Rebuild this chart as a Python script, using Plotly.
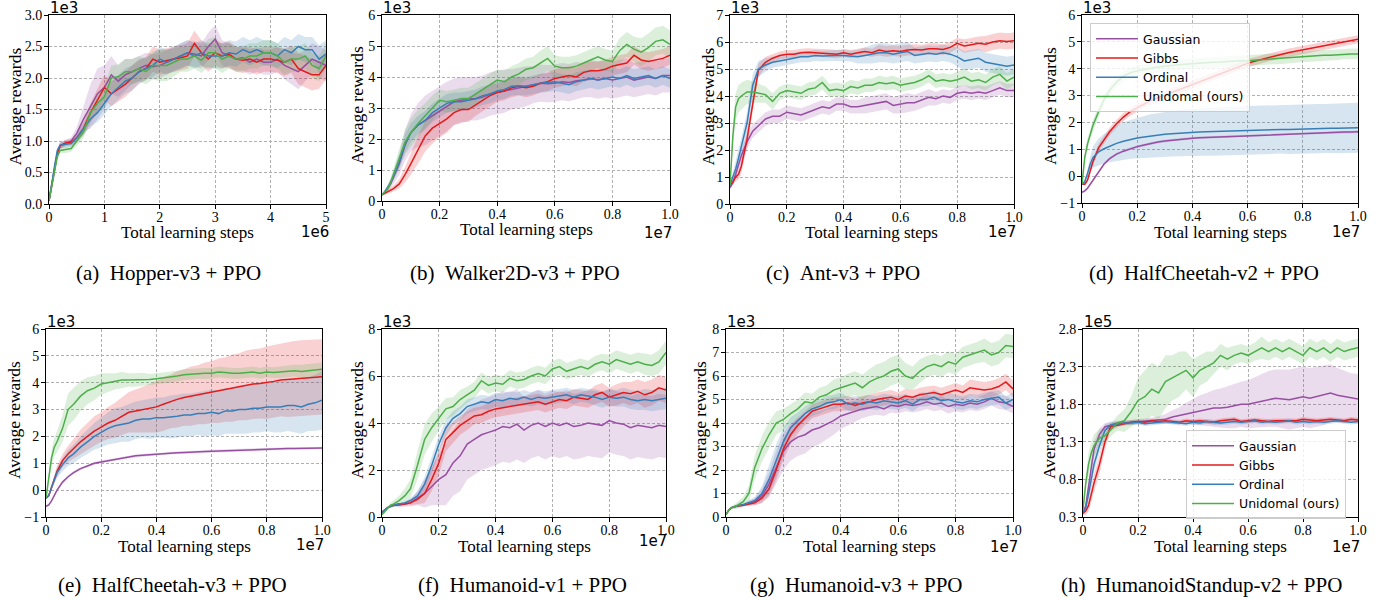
import plotly.graph_objects as go

# ---------------- data ----------------
SERIES_NAMES = ['Gaussian', 'Gibbs', 'Ordinal', 'Unidomal (ours)']
SERIES_COLORS = ['#984ea3', '#e41a1c', '#377eb8', '#4daf4a']
SERIES_FILLS = ['rgba(152,78,163,0.2)', 'rgba(228,26,28,0.2)', 'rgba(55,126,184,0.2)', 'rgba(77,175,74,0.2)']

# learning steps (x1e7) shared by panels b-h
STEPS_1E7 = [0.0, 0.01, 0.02, 0.03, 0.04, 0.06, 0.08, 0.1, 0.125, 0.15, 0.175,
             0.2, 0.225, 0.25, 0.275, 0.3, 0.325, 0.35, 0.375, 0.4, 0.425, 0.45,
             0.475, 0.5, 0.525, 0.55, 0.575, 0.6, 0.625, 0.65, 0.675, 0.7, 0.725,
             0.75, 0.775, 0.8, 0.825, 0.85, 0.875, 0.9, 0.925, 0.95, 0.975, 1.0]
# learning steps (x1e6) for Hopper
STEPS_1E6 = [0.0, 0.05, 0.1, 0.15, 0.2, 0.3, 0.4, 0.5, 0.625, 0.75, 0.875,
             1.0, 1.125, 1.25, 1.375, 1.5, 1.625, 1.75, 1.875, 2.0, 2.125, 2.25,
             2.375, 2.5, 2.625, 2.75, 2.875, 3.0, 3.125, 3.25, 3.375, 3.5, 3.625,
             3.75, 3.875, 4.0, 4.125, 4.25, 4.375, 4.5, 4.625, 4.75, 4.875, 5.0]

# (a) Hopper-v3 (x1e3)
HOP_GAU = [0.05, 0.3, 0.55, 0.8, 0.93, 0.97, 1.0, 1.12, 1.35, 1.55, 1.75,
           1.85, 2.05, 1.95, 2.05, 2.1, 2.15, 2.2, 2.18, 2.2, 2.25, 2.3,
           2.35, 2.4, 2.38, 2.35, 2.5, 2.62, 2.4, 2.35, 2.3, 2.32, 2.25,
           2.3, 2.25, 2.25, 2.3, 2.2, 2.15, 2.1, 2.2, 2.3, 2.25, 2.2]
HOP_GIB = [0.05, 0.3, 0.55, 0.8, 0.92, 0.97, 0.98, 1.05, 1.2, 1.45, 1.65,
           1.85, 1.75, 1.82, 1.9, 2.0, 2.1, 2.15, 2.3, 2.25, 2.28, 2.3,
           2.32, 2.35, 2.55, 2.4, 2.3, 2.4, 2.35, 2.38, 2.3, 2.28, 2.3,
           2.25, 2.3, 2.3, 2.28, 2.25, 2.3, 2.15, 2.1, 2.05, 2.05, 2.2]
HOP_ORD = [0.05, 0.35, 0.6, 0.85, 0.93, 0.95, 0.96, 1.05, 1.2, 1.35, 1.45,
           1.6, 1.75, 1.85, 1.95, 2.0, 2.1, 2.15, 2.2, 2.3, 2.25, 2.3,
           2.35, 2.4, 2.35, 2.4, 2.35, 2.35, 2.35, 2.4, 2.38, 2.45, 2.4,
           2.45, 2.4, 2.4, 2.35, 2.45, 2.4, 2.5, 2.45, 2.45, 2.3, 2.38]
HOP_UNI = [0.05, 0.28, 0.5, 0.75, 0.85, 0.86, 0.88, 1.0, 1.15, 1.45, 1.6,
           1.7, 2.0, 2.02, 2.1, 2.1, 2.15, 2.1, 2.2, 2.2, 2.2, 2.25,
           2.3, 2.3, 2.35, 2.28, 2.4, 2.4, 2.3, 2.35, 2.3, 2.3, 2.35,
           2.35, 2.4, 2.4, 2.35, 2.25, 2.3, 2.3, 2.35, 2.2, 2.15, 2.35]
HOP_GAU_SD = [0.02, 0.04, 0.05, 0.05, 0.05, 0.05, 0.06, 0.1, 0.2, 0.35, 0.4,
              0.35, 0.3, 0.25, 0.25, 0.2, 0.2, 0.2, 0.2, 0.2, 0.2, 0.18,
              0.2, 0.2, 0.2, 0.2, 0.22, 0.22, 0.2, 0.2, 0.18, 0.2, 0.2,
              0.2, 0.2, 0.2, 0.2, 0.22, 0.25, 0.28, 0.25, 0.25, 0.25, 0.25]
HOP_GIB_SD = [0.02, 0.04, 0.05, 0.05, 0.05, 0.05, 0.05, 0.08, 0.1, 0.15, 0.18,
              0.2, 0.2, 0.2, 0.2, 0.2, 0.18, 0.18, 0.2, 0.2, 0.2, 0.2,
              0.2, 0.2, 0.2, 0.2, 0.2, 0.2, 0.2, 0.2, 0.2, 0.2, 0.2,
              0.2, 0.2, 0.2, 0.2, 0.22, 0.22, 0.25, 0.25, 0.25, 0.22, 0.22]
HOP_ORD_SD = [0.02, 0.04, 0.05, 0.05, 0.05, 0.05, 0.05, 0.08, 0.1, 0.12, 0.15,
              0.18, 0.2, 0.2, 0.2, 0.2, 0.2, 0.18, 0.18, 0.2, 0.2, 0.2,
              0.2, 0.2, 0.2, 0.2, 0.2, 0.2, 0.2, 0.2, 0.2, 0.2, 0.2,
              0.2, 0.2, 0.2, 0.2, 0.2, 0.2, 0.2, 0.2, 0.2, 0.22, 0.22]
HOP_UNI_SD = [0.02, 0.04, 0.05, 0.05, 0.05, 0.05, 0.05, 0.08, 0.1, 0.12, 0.15,
              0.18, 0.2, 0.2, 0.2, 0.2, 0.2, 0.2, 0.22, 0.25, 0.25, 0.22,
              0.2, 0.2, 0.2, 0.2, 0.22, 0.25, 0.22, 0.2, 0.2, 0.2, 0.2,
              0.2, 0.2, 0.2, 0.2, 0.2, 0.2, 0.2, 0.2, 0.2, 0.2, 0.2]

# (b) Walker2D-v3 (x1e3)
WAL_GAU = [0.2, 0.3, 0.4, 0.55, 0.75, 1.2, 1.8, 2.2, 2.45, 2.6, 2.75,
           2.9, 3.05, 3.2, 3.25, 3.3, 3.3, 3.35, 3.45, 3.5, 3.55, 3.6,
           3.65, 3.7, 3.75, 3.8, 3.78, 3.8, 3.85, 3.82, 3.88, 3.9, 3.95,
           3.9, 3.95, 3.9, 3.95, 4.0, 3.9, 3.95, 4.0, 3.95, 4.05, 4.05]
WAL_GIB = [0.2, 0.25, 0.3, 0.35, 0.4, 0.55, 0.85, 1.2, 1.65, 2.1, 2.35,
           2.5, 2.65, 2.85, 2.95, 2.95, 3.1, 3.25, 3.4, 3.5, 3.55, 3.65,
           3.7, 3.65, 3.7, 3.8, 3.85, 3.95, 4.0, 4.05, 4.0, 4.15, 4.2,
           4.2, 4.25, 4.35, 4.4, 4.45, 4.7, 4.55, 4.5, 4.55, 4.6, 4.7]
WAL_ORD = [0.2, 0.3, 0.45, 0.6, 0.8, 1.25, 1.85, 2.2, 2.45, 2.6, 2.85,
           3.0, 3.15, 3.2, 3.2, 3.25, 3.3, 3.4, 3.45, 3.55, 3.6, 3.7,
           3.72, 3.7, 3.75, 3.8, 3.82, 3.85, 3.8, 3.75, 3.85, 3.9, 3.95,
           3.9, 3.95, 4.0, 3.95, 4.05, 3.95, 4.0, 4.05, 3.95, 4.05, 3.95]
WAL_UNI = [0.2, 0.3, 0.4, 0.6, 0.85, 1.35, 1.9, 2.2, 2.5, 2.75, 3.0,
           3.25, 3.2, 3.25, 3.3, 3.3, 3.45, 3.6, 3.75, 3.9, 3.85, 4.0,
           4.1, 4.25, 4.3, 4.45, 4.6, 4.35, 4.3, 4.3, 4.35, 4.45, 4.55,
           4.65, 4.55, 4.5, 4.85, 5.05, 4.9, 4.8, 4.95, 5.15, 5.2, 5.05]
WAL_GAU_SD = [0.02, 0.05, 0.1, 0.15, 0.2, 0.35, 0.5, 0.6, 0.7, 0.8, 0.8,
              0.8, 0.8, 0.75, 0.75, 0.7, 0.7, 0.7, 0.7, 0.7, 0.7, 0.65,
              0.65, 0.65, 0.6, 0.6, 0.6, 0.6, 0.6, 0.6, 0.6, 0.55, 0.6,
              0.6, 0.6, 0.6, 0.6, 0.6, 0.55, 0.55, 0.55, 0.55, 0.55, 0.55]
WAL_GIB_SD = [0.02, 0.05, 0.05, 0.08, 0.1, 0.15, 0.25, 0.35, 0.45, 0.5, 0.5,
              0.45, 0.45, 0.4, 0.4, 0.4, 0.35, 0.35, 0.35, 0.3, 0.3, 0.3,
              0.3, 0.3, 0.3, 0.3, 0.3, 0.3, 0.3, 0.3, 0.3, 0.3, 0.3,
              0.3, 0.3, 0.3, 0.3, 0.3, 0.3, 0.3, 0.3, 0.3, 0.3, 0.3]
WAL_ORD_SD = [0.02, 0.05, 0.08, 0.1, 0.15, 0.2, 0.3, 0.3, 0.3, 0.3, 0.3,
              0.3, 0.3, 0.3, 0.3, 0.3, 0.3, 0.3, 0.3, 0.3, 0.3, 0.3,
              0.3, 0.3, 0.3, 0.3, 0.3, 0.3, 0.3, 0.3, 0.3, 0.3, 0.3,
              0.3, 0.3, 0.3, 0.3, 0.3, 0.3, 0.3, 0.3, 0.3, 0.3, 0.3]
WAL_UNI_SD = [0.02, 0.05, 0.1, 0.15, 0.2, 0.3, 0.4, 0.45, 0.45, 0.4, 0.4,
              0.35, 0.35, 0.35, 0.35, 0.35, 0.35, 0.35, 0.35, 0.35, 0.35, 0.35,
              0.35, 0.35, 0.35, 0.4, 0.4, 0.35, 0.35, 0.35, 0.35, 0.35, 0.35,
              0.35, 0.35, 0.35, 0.4, 0.4, 0.4, 0.45, 0.45, 0.45, 0.45, 0.45]

# (c) Ant-v3 (x1e3)
ANT_GAU = [0.6, 0.8, 1.1, 1.5, 1.8, 2.3, 2.7, 2.9, 3.15, 3.25, 3.25,
           3.4, 3.35, 3.3, 3.4, 3.5, 3.6, 3.55, 3.7, 3.7, 3.6, 3.6,
           3.65, 3.7, 3.75, 3.8, 3.65, 3.7, 3.75, 3.75, 3.85, 3.95, 3.9,
           4.0, 3.95, 4.1, 4.15, 4.1, 4.15, 4.1, 4.2, 4.3, 4.2, 4.2]
ANT_GIB = [0.7, 0.8, 1.0, 1.1, 1.4, 2.4, 3.7, 4.95, 5.25, 5.4, 5.5,
           5.55, 5.55, 5.6, 5.62, 5.6, 5.6, 5.58, 5.55, 5.6, 5.55, 5.6,
           5.65, 5.6, 5.7, 5.65, 5.68, 5.65, 5.7, 5.72, 5.7, 5.75, 5.75,
           5.72, 5.8, 5.95, 5.85, 5.9, 5.95, 5.92, 6.0, 6.05, 6.02, 6.05]
ANT_ORD = [0.7, 1.0, 1.3, 1.7, 2.1, 3.0, 4.4, 5.0, 5.15, 5.25, 5.3,
           5.35, 5.4, 5.45, 5.45, 5.5, 5.48, 5.5, 5.5, 5.5, 5.48, 5.45,
           5.5, 5.55, 5.6, 5.6, 5.55, 5.6, 5.65, 5.5, 5.55, 5.58, 5.55,
           5.6, 5.55, 5.45, 5.3, 5.35, 5.4, 5.25, 5.2, 5.15, 5.1, 5.15]
ANT_UNI = [0.7, 2.5, 3.6, 3.9, 4.0, 4.15, 4.15, 4.1, 4.05, 3.8, 4.1,
           4.2, 4.15, 4.1, 4.25, 4.3, 4.5, 4.2, 4.25, 4.2, 4.35, 4.3,
           4.4, 4.4, 4.5, 4.45, 4.5, 4.4, 4.45, 4.5, 4.6, 4.75, 4.55,
           4.6, 4.55, 4.6, 4.7, 4.55, 4.6, 4.5, 4.7, 4.8, 4.55, 4.7]
ANT_GAU_SD = [0.05, 0.1, 0.15, 0.2, 0.25, 0.25, 0.25, 0.25, 0.25, 0.25, 0.25,
              0.25, 0.25, 0.25, 0.25, 0.25, 0.25, 0.25, 0.25, 0.25, 0.25, 0.25,
              0.3, 0.3, 0.3, 0.3, 0.3, 0.35, 0.35, 0.3, 0.3, 0.3, 0.25,
              0.25, 0.25, 0.25, 0.25, 0.25, 0.25, 0.25, 0.25, 0.25, 0.25, 0.25]
ANT_GIB_SD = [0.05, 0.1, 0.15, 0.2, 0.25, 0.3, 0.3, 0.25, 0.2, 0.15, 0.15,
              0.15, 0.15, 0.15, 0.15, 0.15, 0.15, 0.15, 0.15, 0.15, 0.15, 0.15,
              0.15, 0.15, 0.2, 0.2, 0.2, 0.2, 0.2, 0.2, 0.2, 0.2, 0.2,
              0.2, 0.2, 0.2, 0.25, 0.25, 0.25, 0.3, 0.3, 0.3, 0.3, 0.3]
ANT_ORD_SD = [0.05, 0.15, 0.25, 0.3, 0.35, 0.4, 0.4, 0.3, 0.25, 0.2, 0.2,
              0.2, 0.2, 0.2, 0.2, 0.2, 0.2, 0.2, 0.2, 0.2, 0.2, 0.25,
              0.3, 0.35, 0.35, 0.35, 0.35, 0.35, 0.35, 0.3, 0.3, 0.3, 0.3,
              0.3, 0.3, 0.35, 0.35, 0.35, 0.35, 0.35, 0.35, 0.35, 0.35, 0.35]
ANT_UNI_SD = [0.05, 0.4, 0.5, 0.5, 0.5, 0.45, 0.4, 0.35, 0.3, 0.3, 0.25,
              0.25, 0.25, 0.25, 0.25, 0.25, 0.25, 0.25, 0.25, 0.25, 0.25, 0.25,
              0.25, 0.25, 0.25, 0.25, 0.25, 0.25, 0.25, 0.25, 0.25, 0.25, 0.25,
              0.25, 0.25, 0.3, 0.3, 0.3, 0.3, 0.3, 0.3, 0.3, 0.3, 0.3]

# (d) HalfCheetah-v2 (x1e3)
HC2_GAU = [-0.6, -0.55, -0.45, -0.3, -0.15, 0.15, 0.45, 0.65, 0.82, 0.93, 1.02,
           1.1, 1.16, 1.22, 1.27, 1.31, 1.34, 1.37, 1.4, 1.41, 1.43, 1.44,
           1.45, 1.46, 1.48, 1.5, 1.51, 1.52, 1.53, 1.54, 1.55, 1.56, 1.57,
           1.58, 1.59, 1.6, 1.6, 1.61, 1.62, 1.62, 1.63, 1.64, 1.64, 1.65]
HC2_GIB = [-0.3, -0.3, -0.15, 0.2, 0.55, 1.05, 1.35, 1.65, 1.95, 2.2, 2.4,
           2.55, 2.7, 2.82, 2.92, 3.02, 3.12, 3.22, 3.32, 3.42, 3.52, 3.62,
           3.72, 3.82, 3.92, 4.02, 4.1, 4.2, 4.28, 4.35, 4.42, 4.48, 4.54,
           4.6, 4.65, 4.7, 4.75, 4.8, 4.85, 4.9, 4.95, 5.0, 5.05, 5.1]
HC2_ORD = [-0.3, -0.2, 0.1, 0.45, 0.7, 0.9, 1.02, 1.12, 1.22, 1.3, 1.37,
           1.42, 1.46, 1.5, 1.53, 1.56, 1.58, 1.6, 1.62, 1.63, 1.64, 1.65,
           1.66, 1.67, 1.68, 1.69, 1.7, 1.7, 1.71, 1.72, 1.72, 1.73, 1.74,
           1.74, 1.75, 1.76, 1.76, 1.77, 1.77, 1.78, 1.78, 1.79, 1.79, 1.8]
HC2_UNI = [-0.3, 0.7, 1.2, 1.6, 1.9, 2.4, 2.85, 3.2, 3.5, 3.72, 3.85,
           3.92, 3.98, 4.02, 4.06, 4.1, 4.12, 4.15, 4.17, 4.2, 4.2, 4.22,
           4.24, 4.25, 4.27, 4.28, 4.3, 4.3, 4.32, 4.34, 4.35, 4.37, 4.38,
           4.4, 4.42, 4.45, 4.46, 4.48, 4.5, 4.5, 4.52, 4.55, 4.55, 4.55]
HC2_GAU_SD = [0.05, 0.05, 0.05, 0.05, 0.05, 0.05, 0.05, 0.05, 0.05, 0.05, 0.05,
              0.05, 0.05, 0.05, 0.05, 0.05, 0.05, 0.05, 0.05, 0.05, 0.05, 0.05,
              0.05, 0.05, 0.05, 0.05, 0.05, 0.05, 0.05, 0.05, 0.05, 0.05, 0.05,
              0.05, 0.05, 0.05, 0.05, 0.05, 0.05, 0.05, 0.05, 0.05, 0.05, 0.05]
HC2_GIB_SD = [0.05, 0.05, 0.08, 0.1, 0.12, 0.15, 0.15, 0.15, 0.15, 0.15, 0.15,
              0.15, 0.15, 0.15, 0.15, 0.15, 0.15, 0.15, 0.15, 0.15, 0.15, 0.15,
              0.15, 0.15, 0.15, 0.15, 0.15, 0.15, 0.15, 0.15, 0.15, 0.15, 0.15,
              0.15, 0.15, 0.15, 0.15, 0.15, 0.15, 0.15, 0.15, 0.15, 0.15, 0.15]
HC2_ORD_SD = [0.02, 0.05, 0.15, 0.3, 0.4, 0.5, 0.55, 0.6, 0.65, 0.7, 0.72,
              0.75, 0.78, 0.8, 0.82, 0.84, 0.85, 0.86, 0.87, 0.88, 0.88, 0.89,
              0.9, 0.9, 0.9, 0.9, 0.9, 0.9, 0.9, 0.9, 0.9, 0.9, 0.9,
              0.92, 0.92, 0.92, 0.92, 0.92, 0.92, 0.92, 0.93, 0.93, 0.93, 0.93]
HC2_UNI_SD = [0.05, 0.15, 0.2, 0.2, 0.2, 0.2, 0.2, 0.2, 0.2, 0.2, 0.2,
              0.2, 0.2, 0.2, 0.2, 0.2, 0.2, 0.2, 0.2, 0.2, 0.2, 0.2,
              0.2, 0.2, 0.2, 0.2, 0.2, 0.2, 0.2, 0.2, 0.2, 0.2, 0.2,
              0.2, 0.2, 0.2, 0.2, 0.2, 0.2, 0.2, 0.2, 0.2, 0.2, 0.2]

# (e) HalfCheetah-v3 (x1e3)
HC3_GAU = [-0.6, -0.55, -0.4, -0.2, 0.0, 0.3, 0.5, 0.65, 0.8, 0.9, 1.0,
           1.05, 1.1, 1.15, 1.2, 1.25, 1.28, 1.3, 1.32, 1.35, 1.37, 1.38,
           1.39, 1.4, 1.42, 1.43, 1.44, 1.45, 1.46, 1.47, 1.48, 1.5, 1.5,
           1.51, 1.52, 1.52, 1.53, 1.54, 1.55, 1.55, 1.56, 1.56, 1.57, 1.57]
HC3_GIB = [-0.3, -0.2, 0.1, 0.4, 0.7, 1.1, 1.35, 1.55, 1.8, 2.0, 2.2,
           2.35, 2.5, 2.6, 2.75, 2.9, 2.95, 3.0, 3.05, 3.1, 3.2, 3.3,
           3.38, 3.45, 3.5, 3.55, 3.6, 3.65, 3.7, 3.75, 3.8, 3.85, 3.9,
           3.95, 3.97, 4.0, 4.05, 4.1, 4.12, 4.15, 4.18, 4.2, 4.2, 4.22]
HC3_ORD = [-0.3, -0.2, 0.1, 0.4, 0.65, 0.95, 1.2, 1.35, 1.6, 1.8, 2.0,
           2.15, 2.3, 2.4, 2.45, 2.5, 2.6, 2.65, 2.65, 2.7, 2.7, 2.72,
           2.75, 2.8, 2.8, 2.85, 2.85, 2.9, 2.85, 2.95, 2.95, 3.0, 3.0,
           3.05, 3.05, 3.1, 3.1, 3.1, 3.15, 3.15, 3.1, 3.2, 3.25, 3.35]
HC3_UNI = [-0.3, 0.5, 1.2, 1.6, 1.8, 2.3, 3.0, 3.2, 3.5, 3.7, 3.8,
           3.95, 4.0, 4.05, 4.1, 4.1, 4.1, 4.12, 4.12, 4.15, 4.18, 4.2,
           4.25, 4.3, 4.32, 4.35, 4.35, 4.35, 4.4, 4.38, 4.35, 4.35, 4.38,
           4.4, 4.35, 4.4, 4.38, 4.4, 4.42, 4.45, 4.42, 4.45, 4.48, 4.5]
HC3_GAU_SD = [0.05, 0.05, 0.05, 0.05, 0.05, 0.05, 0.05, 0.05, 0.05, 0.05, 0.05,
              0.05, 0.05, 0.05, 0.05, 0.05, 0.05, 0.05, 0.05, 0.05, 0.05, 0.05,
              0.05, 0.05, 0.05, 0.05, 0.05, 0.05, 0.05, 0.05, 0.05, 0.05, 0.05,
              0.05, 0.05, 0.05, 0.05, 0.05, 0.05, 0.05, 0.05, 0.05, 0.05, 0.05]
HC3_GIB_SD = [0.02, 0.05, 0.1, 0.15, 0.2, 0.25, 0.3, 0.35, 0.45, 0.5, 0.55,
              0.55, 0.6, 0.65, 0.7, 0.75, 0.8, 0.85, 0.9, 0.95, 1.0, 1.0,
              1.05, 1.05, 1.1, 1.1, 1.15, 1.15, 1.2, 1.2, 1.25, 1.25, 1.3,
              1.3, 1.3, 1.35, 1.35, 1.35, 1.4, 1.4, 1.4, 1.4, 1.4, 1.4]
HC3_ORD_SD = [0.02, 0.05, 0.1, 0.15, 0.2, 0.25, 0.3, 0.35, 0.4, 0.45, 0.5,
              0.55, 0.6, 0.65, 0.65, 0.7, 0.7, 0.7, 0.75, 0.75, 0.75, 0.8,
              0.8, 0.8, 0.8, 0.8, 0.85, 0.85, 0.85, 0.85, 0.85, 0.9, 0.9,
              0.9, 0.9, 0.9, 0.95, 0.95, 0.95, 1.0, 1.0, 1.0, 1.05, 1.1]
HC3_UNI_SD = [0.05, 0.2, 0.3, 0.35, 0.4, 0.5, 0.6, 0.6, 0.55, 0.5, 0.45,
              0.4, 0.35, 0.3, 0.3, 0.25, 0.25, 0.25, 0.2, 0.2, 0.2, 0.2,
              0.2, 0.2, 0.2, 0.2, 0.2, 0.2, 0.2, 0.2, 0.2, 0.2, 0.2,
              0.2, 0.2, 0.2, 0.2, 0.22, 0.22, 0.22, 0.25, 0.25, 0.25, 0.25]

# (f) Humanoid-v1 (x1e3)
HV1_GAU = [0.2, 0.3, 0.4, 0.45, 0.5, 0.5, 0.55, 0.6, 0.8, 1.0, 1.3,
           1.6, 1.8, 2.3, 2.6, 3.1, 3.3, 3.5, 3.6, 3.7, 3.85, 3.8,
           3.95, 3.7, 3.9, 4.0, 3.85, 4.0, 3.9, 4.0, 3.85, 3.9, 4.0,
           3.95, 3.9, 4.1, 4.0, 3.95, 3.8, 3.9, 3.85, 3.8, 3.9, 3.85]
HV1_GIB = [0.2, 0.3, 0.4, 0.45, 0.5, 0.55, 0.55, 0.6, 0.75, 1.0, 1.6,
           2.3, 3.3, 3.6, 3.9, 4.1, 4.3, 4.35, 4.5, 4.6, 4.65, 4.7,
           4.75, 4.8, 4.85, 4.9, 4.8, 4.9, 5.0, 4.95, 5.1, 5.05, 5.0,
           5.2, 5.3, 5.1, 5.2, 5.3, 5.25, 5.35, 5.2, 5.3, 5.5, 5.4]
HV1_ORD = [0.2, 0.3, 0.4, 0.45, 0.5, 0.55, 0.6, 0.7, 0.9, 1.4, 2.2,
           3.1, 3.8, 4.2, 4.4, 4.7, 4.8, 4.9, 4.85, 5.0, 4.95, 5.05,
           5.0, 5.1, 5.0, 5.1, 5.05, 5.1, 5.15, 5.2, 5.1, 5.2, 5.15,
           5.1, 5.0, 5.1, 5.05, 5.1, 5.0, 4.95, 5.0, 4.95, 5.0, 5.05]
HV1_UNI = [0.1, 0.25, 0.4, 0.5, 0.55, 0.7, 0.9, 1.2, 2.2, 3.3, 3.8,
           4.2, 4.6, 4.7, 5.0, 5.2, 5.4, 5.8, 5.6, 5.7, 5.65, 5.9,
           5.8, 5.85, 6.0, 6.1, 6.0, 6.3, 6.4, 6.2, 6.3, 6.4, 6.3,
           6.5, 6.6, 6.5, 6.7, 6.6, 6.5, 6.6, 6.5, 6.45, 6.6, 7.0]
HV1_GAU_SD = [0.02, 0.05, 0.05, 0.05, 0.05, 0.1, 0.1, 0.15, 0.3, 0.6, 0.8,
              1.1, 1.3, 1.4, 1.5, 1.5, 1.5, 1.5, 1.5, 1.5, 1.5, 1.5,
              1.5, 1.4, 1.4, 1.4, 1.4, 1.4, 1.4, 1.4, 1.4, 1.4, 1.4,
              1.4, 1.4, 1.35, 1.35, 1.35, 1.35, 1.35, 1.35, 1.35, 1.35, 1.35]
HV1_GIB_SD = [0.02, 0.05, 0.05, 0.05, 0.05, 0.05, 0.05, 0.1, 0.2, 0.4, 0.5,
              0.5, 0.5, 0.45, 0.4, 0.4, 0.35, 0.35, 0.35, 0.35, 0.35, 0.35,
              0.35, 0.35, 0.35, 0.35, 0.35, 0.35, 0.35, 0.35, 0.35, 0.35, 0.35,
              0.4, 0.4, 0.4, 0.45, 0.45, 0.5, 0.5, 0.55, 0.55, 0.55, 0.55]
HV1_ORD_SD = [0.02, 0.05, 0.05, 0.05, 0.05, 0.05, 0.05, 0.1, 0.2, 0.3, 0.35,
              0.35, 0.35, 0.3, 0.3, 0.3, 0.3, 0.3, 0.3, 0.3, 0.3, 0.3,
              0.3, 0.3, 0.3, 0.3, 0.3, 0.3, 0.3, 0.3, 0.3, 0.3, 0.3,
              0.35, 0.35, 0.35, 0.35, 0.4, 0.4, 0.4, 0.45, 0.45, 0.45, 0.45]
HV1_UNI_SD = [0.02, 0.05, 0.05, 0.1, 0.15, 0.2, 0.3, 0.4, 0.6, 0.65, 0.6,
              0.5, 0.45, 0.4, 0.4, 0.35, 0.35, 0.35, 0.35, 0.35, 0.35, 0.35,
              0.35, 0.35, 0.35, 0.35, 0.35, 0.35, 0.35, 0.35, 0.35, 0.35, 0.35,
              0.35, 0.35, 0.4, 0.4, 0.4, 0.4, 0.4, 0.45, 0.45, 0.5, 0.5]

# (g) Humanoid-v3 (x1e3)
HV3_GAU = [0.1, 0.3, 0.4, 0.45, 0.48, 0.52, 0.58, 0.65, 0.9, 1.4, 2.1,
           2.8, 3.2, 3.4, 3.5, 3.7, 3.8, 3.95, 4.1, 4.3, 4.4, 4.5,
           4.6, 4.65, 4.7, 4.6, 4.75, 4.7, 4.8, 4.75, 4.8, 4.9, 4.8,
           4.85, 4.7, 4.8, 4.75, 4.85, 4.8, 4.9, 5.05, 4.9, 4.85, 4.7]
HV3_GIB = [0.1, 0.3, 0.4, 0.45, 0.47, 0.5, 0.55, 0.6, 0.8, 1.2, 2.0,
           2.9, 3.5, 3.9, 4.2, 4.5, 4.6, 4.7, 4.8, 4.8, 4.85, 4.75,
           4.85, 4.9, 5.0, 5.05, 5.1, 5.0, 5.15, 5.1, 5.2, 5.25, 5.3,
           5.2, 5.3, 5.4, 5.3, 5.5, 5.45, 5.4, 5.45, 5.55, 5.75, 5.45]
HV3_ORD = [0.1, 0.3, 0.4, 0.45, 0.48, 0.52, 0.6, 0.7, 1.0, 1.6, 2.4,
           3.2, 3.8, 4.1, 4.4, 4.6, 4.7, 4.85, 4.9, 5.0, 4.8, 4.85,
           4.8, 4.9, 4.85, 4.95, 4.9, 4.85, 4.95, 4.8, 5.0, 5.0, 5.1,
           4.95, 5.0, 4.9, 4.85, 4.95, 4.9, 5.0, 5.05, 5.1, 4.85, 5.0]
HV3_UNI = [0.1, 0.3, 0.4, 0.45, 0.5, 0.65, 1.0, 2.1, 2.9, 3.5, 4.0,
           4.15, 4.4, 4.6, 4.9, 4.85, 5.1, 5.2, 5.4, 5.5, 5.6, 5.7,
           5.5, 5.75, 5.9, 6.0, 6.2, 6.3, 6.0, 5.9, 6.2, 6.4, 6.5,
           6.4, 6.6, 6.5, 6.8, 6.9, 7.0, 7.1, 6.9, 7.0, 7.3, 7.25]
HV3_GAU_SD = [0.02, 0.05, 0.05, 0.05, 0.05, 0.05, 0.1, 0.15, 0.3, 0.5, 0.7,
              0.8, 0.8, 0.8, 0.8, 0.75, 0.7, 0.65, 0.6, 0.55, 0.5, 0.45,
              0.4, 0.35, 0.35, 0.3, 0.3, 0.3, 0.3, 0.3, 0.3, 0.3, 0.3,
              0.3, 0.3, 0.3, 0.3, 0.3, 0.3, 0.3, 0.3, 0.3, 0.3, 0.3]
HV3_GIB_SD = [0.02, 0.05, 0.05, 0.05, 0.05, 0.05, 0.05, 0.1, 0.2, 0.35, 0.45,
              0.45, 0.4, 0.35, 0.3, 0.3, 0.3, 0.3, 0.3, 0.3, 0.3, 0.3,
              0.3, 0.3, 0.3, 0.3, 0.3, 0.3, 0.3, 0.3, 0.3, 0.3, 0.3,
              0.3, 0.3, 0.3, 0.3, 0.35, 0.35, 0.35, 0.35, 0.35, 0.35, 0.35]
HV3_ORD_SD = [0.02, 0.05, 0.05, 0.05, 0.05, 0.05, 0.1, 0.15, 0.3, 0.6, 0.7,
              0.6, 0.45, 0.35, 0.3, 0.3, 0.3, 0.3, 0.3, 0.3, 0.3, 0.3,
              0.3, 0.3, 0.3, 0.3, 0.3, 0.3, 0.3, 0.3, 0.3, 0.3, 0.3,
              0.3, 0.3, 0.3, 0.3, 0.3, 0.3, 0.3, 0.3, 0.3, 0.3, 0.3]
HV3_UNI_SD = [0.02, 0.05, 0.05, 0.1, 0.15, 0.2, 0.35, 0.5, 0.55, 0.55, 0.5,
              0.45, 0.4, 0.4, 0.4, 0.4, 0.4, 0.4, 0.45, 0.45, 0.5, 0.5,
              0.55, 0.55, 0.6, 0.6, 0.6, 0.6, 0.55, 0.5, 0.5, 0.45, 0.45,
              0.45, 0.45, 0.45, 0.45, 0.45, 0.45, 0.5, 0.5, 0.5, 0.5, 0.5]

# (h) HumanoidStandup-v2 (x1e5)
HS_GAU = [0.35, 0.45, 0.7, 0.95, 1.2, 1.4, 1.5, 1.52, 1.55, 1.55, 1.56,
          1.57, 1.57, 1.58, 1.59, 1.6, 1.63, 1.65, 1.68, 1.7, 1.72, 1.73,
          1.75, 1.75, 1.76, 1.78, 1.8, 1.8, 1.82, 1.85, 1.87, 1.88, 1.87,
          1.86, 1.88, 1.9, 1.88, 1.9, 1.92, 1.95, 1.92, 1.9, 1.88, 1.87]
HS_GIB = [0.35, 0.38, 0.45, 0.6, 0.75, 1.0, 1.3, 1.5, 1.52, 1.55, 1.56,
          1.57, 1.56, 1.58, 1.57, 1.58, 1.57, 1.56, 1.58, 1.57, 1.58, 1.57,
          1.56, 1.58, 1.59, 1.6, 1.57, 1.58, 1.59, 1.58, 1.57, 1.58, 1.58,
          1.59, 1.58, 1.6, 1.59, 1.58, 1.59, 1.6, 1.59, 1.58, 1.6, 1.59]
HS_ORD = [0.35, 0.42, 0.6, 0.8, 1.0, 1.25, 1.45, 1.52, 1.54, 1.55, 1.55,
          1.56, 1.54, 1.55, 1.56, 1.57, 1.56, 1.55, 1.54, 1.56, 1.55, 1.57,
          1.56, 1.55, 1.56, 1.57, 1.56, 1.57, 1.58, 1.56, 1.57, 1.56, 1.57,
          1.58, 1.56, 1.57, 1.56, 1.57, 1.56, 1.57, 1.58, 1.57, 1.56, 1.57]
HS_UNI = [0.4, 0.75, 1.0, 1.15, 1.25, 1.35, 1.38, 1.45, 1.55, 1.58, 1.7,
          1.85, 1.9, 2.0, 1.95, 2.1, 2.15, 2.2, 2.25, 2.15, 2.25, 2.3,
          2.35, 2.45, 2.4, 2.45, 2.48, 2.45, 2.5, 2.55, 2.5, 2.55, 2.5,
          2.55, 2.5, 2.45, 2.55, 2.5, 2.55, 2.48, 2.55, 2.5, 2.53, 2.55]
HS_GAU_SD = [0.03, 0.05, 0.08, 0.1, 0.1, 0.08, 0.05, 0.04, 0.03, 0.03, 0.03,
             0.03, 0.03, 0.04, 0.05, 0.07, 0.09, 0.11, 0.14, 0.17, 0.2, 0.22,
             0.24, 0.26, 0.28, 0.3, 0.3, 0.32, 0.34, 0.36, 0.37, 0.38, 0.39,
             0.4, 0.4, 0.4, 0.4, 0.4, 0.4, 0.38, 0.36, 0.34, 0.33, 0.33]
HS_GIB_SD = [0.02, 0.05, 0.08, 0.1, 0.12, 0.12, 0.1, 0.05, 0.03, 0.03, 0.03,
             0.03, 0.03, 0.03, 0.03, 0.03, 0.03, 0.03, 0.03, 0.03, 0.03, 0.03,
             0.03, 0.03, 0.03, 0.03, 0.03, 0.03, 0.03, 0.03, 0.03, 0.03, 0.03,
             0.03, 0.03, 0.03, 0.03, 0.03, 0.03, 0.03, 0.03, 0.03, 0.03, 0.03]
HS_ORD_SD = [0.02, 0.05, 0.08, 0.1, 0.1, 0.1, 0.08, 0.05, 0.03, 0.03, 0.03,
             0.03, 0.03, 0.03, 0.03, 0.03, 0.03, 0.03, 0.03, 0.03, 0.03, 0.03,
             0.03, 0.03, 0.03, 0.03, 0.03, 0.03, 0.03, 0.03, 0.03, 0.03, 0.03,
             0.03, 0.03, 0.03, 0.03, 0.03, 0.03, 0.03, 0.03, 0.03, 0.03, 0.03]
HS_UNI_SD = [0.05, 0.1, 0.15, 0.15, 0.15, 0.12, 0.1, 0.08, 0.1, 0.15, 0.2,
             0.3, 0.35, 0.35, 0.35, 0.35, 0.3, 0.3, 0.25, 0.25, 0.2, 0.2,
             0.15, 0.15, 0.15, 0.12, 0.12, 0.12, 0.12, 0.15, 0.12, 0.12, 0.12,
             0.12, 0.12, 0.12, 0.12, 0.12, 0.12, 0.12, 0.12, 0.12, 0.12, 0.12]

# tick values / labels
HOP_XTICKS = [0, 1, 2, 3, 4, 5]
HOP_XLABELS = ['0', '1', '2', '3', '4', '5']
TEN_XTICKS = [0, 0.2, 0.4, 0.6, 0.8, 1.0]
TEN_XLABELS = ['0', '0.2', '0.4', '0.6', '0.8', '1.0']
HOP_YTICKS = [0, 0.5, 1.0, 1.5, 2.0, 2.5, 3.0]
HOP_YLABELS = ['0.0', '0.5', '1.0', '1.5', '2.0', '2.5', '3.0']
WAL_YTICKS = [0, 1, 2, 3, 4, 5, 6]
WAL_YLABELS = ['0', '1', '2', '3', '4', '5', '6']
ANT_YTICKS = [0, 1, 2, 3, 4, 5, 6, 7]
ANT_YLABELS = ['0', '1', '2', '3', '4', '5', '6', '7']
HC_YTICKS = [-1, 0, 1, 2, 3, 4, 5, 6]
HC_YLABELS = ['\u22121', '0', '1', '2', '3', '4', '5', '6']
HV1_YTICKS = [0, 2, 4, 6, 8]
HV1_YLABELS = ['0', '2', '4', '6', '8']
HV3_YTICKS = [0, 1, 2, 3, 4, 5, 6, 7, 8]
HV3_YLABELS = ['0', '1', '2', '3', '4', '5', '6', '7', '8']
HS_YTICKS = [0.3, 0.8, 1.3, 1.8, 2.3, 2.8]
HS_YLABELS = ['0.3', '0.8', '1.3', '1.8', '2.3', '2.8']

CAPTIONS = ['(a)\u00a0\u00a0Hopper-v3 + PPO', '(b)\u00a0\u00a0Walker2D-v3 + PPO', '(c)\u00a0\u00a0Ant-v3 + PPO',
            '(d)\u00a0\u00a0HalfCheetah-v2 + PPO', '(e)\u00a0\u00a0HalfCheetah-v3 + PPO',
            '(f)\u00a0\u00a0Humanoid-v1 + PPO', '(g)\u00a0\u00a0Humanoid-v3 + PPO',
            '(h)\u00a0\u00a0HumanoidStandup-v2 + PPO']

# ---------------- layout helpers ----------------
W, H = 1392, 600
SERIF = 'Liberation Serif'
SANS = 'DejaVu Sans'


def fx(p):
    return p / W


def fy(p):
    return 1 - p / H


panels = [
    dict(x=STEPS_1E6, m=[HOP_GAU, HOP_GIB, HOP_ORD, HOP_UNI], s=[HOP_GAU_SD, HOP_GIB_SD, HOP_ORD_SD, HOP_UNI_SD],
         xr=[0, 5], yr=[0, 3], xt=HOP_XTICKS, xl=HOP_XLABELS, yt=HOP_YTICKS, yl=HOP_YLABELS,
         xexp='1e6', yexp='1e3', box=(49, 326, 15, 204), ytx=14, xer=331, xey=232, cap=(168, 273), leg=None),
    dict(x=STEPS_1E7, m=[WAL_GAU, WAL_GIB, WAL_ORD, WAL_UNI], s=[WAL_GAU_SD, WAL_GIB_SD, WAL_ORD_SD, WAL_UNI_SD],
         xr=[0, 1], yr=[0, 6], xt=TEN_XTICKS, xl=TEN_XLABELS, yt=WAL_YTICKS, yl=WAL_YLABELS,
         xexp='1e7', yexp='1e3', box=(382, 670, 15, 201), ytx=357, xer=674, xey=233, cap=(515, 273), leg=None),
    dict(x=STEPS_1E7, m=[ANT_GAU, ANT_GIB, ANT_ORD, ANT_UNI], s=[ANT_GAU_SD, ANT_GIB_SD, ANT_ORD_SD, ANT_UNI_SD],
         xr=[0, 1], yr=[0, 7], xt=TEN_XTICKS, xl=TEN_XLABELS, yt=ANT_YTICKS, yl=ANT_YLABELS,
         xexp='1e7', yexp='1e3', box=(730, 1014, 15, 204), ytx=707, xer=1018, xey=232, cap=(843, 273), leg=None),
    dict(x=STEPS_1E7, m=[HC2_GAU, HC2_GIB, HC2_ORD, HC2_UNI], s=[HC2_GAU_SD, HC2_GIB_SD, HC2_ORD_SD, HC2_UNI_SD],
         xr=[0, 1], yr=[-1, 6], xt=TEN_XTICKS, xl=TEN_XLABELS, yt=HC_YTICKS, yl=HC_YLABELS,
         xexp='1e7', yexp='1e3', box=(1082, 1358, 15, 203), ytx=1050, xer=1362, xey=232, cap=(1204, 273), leg='legend'),
    dict(x=STEPS_1E7, m=[HC3_GAU, HC3_GIB, HC3_ORD, HC3_UNI], s=[HC3_GAU_SD, HC3_GIB_SD, HC3_ORD_SD, HC3_UNI_SD],
         xr=[0, 1], yr=[-1, 6], xt=TEN_XTICKS, xl=TEN_XLABELS, yt=HC_YTICKS, yl=HC_YLABELS,
         xexp='1e7', yexp='1e3', box=(46, 322, 329, 517), ytx=14, xer=326, xey=545, cap=(172, 585), leg=None),
    dict(x=STEPS_1E7, m=[HV1_GAU, HV1_GIB, HV1_ORD, HV1_UNI], s=[HV1_GAU_SD, HV1_GIB_SD, HV1_ORD_SD, HV1_UNI_SD],
         xr=[0, 1], yr=[0, 8], xt=TEN_XTICKS, xl=TEN_XLABELS, yt=HV1_YTICKS, yl=HV1_YLABELS,
         xexp='1e7', yexp='1e3', box=(382, 666, 329, 517), ytx=357, xer=669, xey=541, cap=(522, 585), leg=None),
    dict(x=STEPS_1E7, m=[HV3_GAU, HV3_GIB, HV3_ORD, HV3_UNI], s=[HV3_GAU_SD, HV3_GIB_SD, HV3_ORD_SD, HV3_UNI_SD],
         xr=[0, 1], yr=[0, 8], xt=TEN_XTICKS, xl=TEN_XLABELS, yt=HV3_YTICKS, yl=HV3_YLABELS,
         xexp='1e7', yexp='1e3', box=(726, 1013, 329, 517), ytx=700, xer=1020, xey=547, cap=(856, 585), leg=None),
    dict(x=STEPS_1E7, m=[HS_GAU, HS_GIB, HS_ORD, HS_UNI], s=[HS_GAU_SD, HS_GIB_SD, HS_ORD_SD, HS_UNI_SD],
         xr=[0, 1], yr=[0.3, 2.8], xt=TEN_XTICKS, xl=TEN_XLABELS, yt=HS_YTICKS, yl=HS_YLABELS,
         xexp='1e7', yexp='1e5', box=(1083, 1358, 329, 517), ytx=1049, xer=1362, xey=547, cap=(1201, 585), leg='legend2'),
]

fig = go.Figure()
layout = dict(width=W, height=H, margin=dict(l=0, r=0, t=0, b=0, autoexpand=False),
              paper_bgcolor='white', plot_bgcolor='white', showlegend=True)
annotations = []

for i, p in enumerate(panels):
    n = '' if i == 0 else str(i + 1)
    xa, ya = 'x' + n, 'y' + n
    l, r, t, b = p['box']
    axis_common = dict(showline=True, linecolor='black', linewidth=1, mirror=True,
                       ticks='outside', ticklen=4, tickwidth=1, tickcolor='black',
                       showgrid=True, gridcolor='#b0b0b0', gridwidth=0.8, griddash='3px,2px',
                       zeroline=False, tickmode='array', automargin=False,
                       tickfont=dict(family=SERIF, size=14, color='black'))
    layout['xaxis' + n] = dict(axis_common, domain=[fx(l), fx(r)], anchor=ya, range=p['xr'],
                               tickvals=p['xt'], ticktext=p['xl'], ticklabelstandoff=-4)
    layout['yaxis' + n] = dict(axis_common, domain=[fy(b), fy(t)], anchor=xa, range=p['yr'],
                               tickvals=p['yt'], ticktext=p['yl'], ticklabelstandoff=-1)
    xs = p['x']
    # bands
    for k in range(4):
        mean, sd = p['m'][k], p['s'][k]
        upper = [a + c for a, c in zip(mean, sd)]
        lower = [a - c for a, c in zip(mean, sd)]
        fig.add_trace(go.Scatter(x=xs + xs[::-1], y=upper + lower[::-1], xaxis=xa, yaxis=ya,
                                 fill='toself', fillcolor=SERIES_FILLS[k], line=dict(width=0),
                                 mode='lines', hoverinfo='skip', showlegend=False))
    # lines
    for k in range(4):
        if p['leg']:
            kw = dict(showlegend=True, legend=p['leg'])
        else:
            kw = dict(showlegend=False)
        fig.add_trace(go.Scatter(x=xs, y=p['m'][k], xaxis=xa, yaxis=ya, mode='lines',
                                 name=SERIES_NAMES[k], line=dict(color=SERIES_COLORS[k], width=1.5), **kw))
    # texts
    annotations.append(dict(text=p['yexp'], x=fx(l - 1), y=fy(8 if t < 100 else 322), xref='paper', yref='paper',
                            xanchor='left', yanchor='middle', showarrow=False,
                            font=dict(family=SANS, size=15, color='black')))
    annotations.append(dict(text=p['xexp'], x=fx(p['xer']), y=fy(p['xey']), xref='paper', yref='paper',
                            xanchor='right', yanchor='middle', showarrow=False,
                            font=dict(family=SANS, size=15, color='black')))
    annotations.append(dict(text='Total learning steps', x=fx((l + r) / 2), y=fy(b + 29), xref='paper', yref='paper',
                            xanchor='center', yanchor='middle', showarrow=False,
                            font=dict(family=SERIF, size=17, color='black')))
    annotations.append(dict(text='Average rewards', x=fx(p['ytx']), y=fy((t + b) / 2 - 3), xref='paper', yref='paper',
                            xanchor='center', yanchor='middle', showarrow=False, textangle=-90,
                            font=dict(family=SERIF, size=17.5, color='black')))
    annotations.append(dict(text=CAPTIONS[i], x=fx(p['cap'][0]), y=fy(p['cap'][1]), xref='paper', yref='paper',
                            xanchor='center', yanchor='middle', showarrow=False,
                            font=dict(family=SERIF, size=21, color='black')))

legend_common = dict(bgcolor='rgba(255,255,255,0.8)', bordercolor='#cccccc', borderwidth=1,
                     font=dict(family=SANS, size=12.5, color='black'), xanchor='left', yanchor='top',
                     tracegroupgap=0, itemwidth=42)
layout['legend'] = dict(legend_common, x=fx(1090), y=fy(23))
layout['legend2'] = dict(legend_common, x=fx(1186), y=fy(430))
layout['annotations'] = annotations

fig.update_layout(**layout)
# remove the page's default body margin so the 1392x600 figure fills the window exactly
fig.write_html('out.html', config={'displayModeBar': False},
               post_script="document.body.style.margin='0';document.body.style.padding='0';"
                           "document.body.style.overflow='hidden';")
